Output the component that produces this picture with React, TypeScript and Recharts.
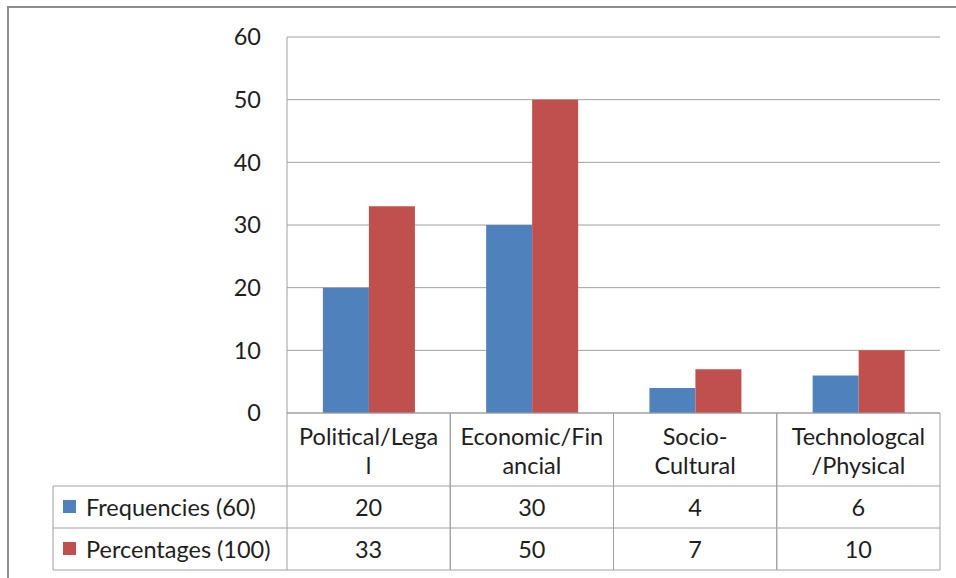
import React from 'react';
import { BarChart, Bar, XAxis, YAxis, CartesianGrid } from 'recharts';

const categories = ['Political/Legal', 'Economic/Financial', 'Socio-Cultural', 'Technologcal/Physical'];
const categoryLines = [
    ['Political/Lega', 'l'],
    ['Economic/Fin', 'ancial'],
    ['Socio-', 'Cultural'],
    ['Technologcal', '/Physical'],
];
const frequencies = [20, 30, 4, 6];
const percentages = [33, 50, 7, 10];
const seriesNames = ['Frequencies (60)', 'Percentages (100)'];
const seriesColors = ['#4F81BD', '#C0504D'];
const yTicks = [0, 10, 20, 30, 40, 50, 60];

const data = categories.map((name, i) => ({
    name,
    lines: categoryLines[i],
    freq: frequencies[i],
    pct: percentages[i],
}));

const W = 956;
const H = 578;
const PLOT_LEFT = 287;
const PLOT_RIGHT = 940;
const PLOT_TOP = 37;
const PLOT_BOTTOM = 413;
const BAND = (PLOT_RIGHT - PLOT_LEFT) / categories.length;
const LEGEND_LEFT = 53;
const LINE = '#a0a0a0';
const TEXT = '#1e1e1e';
const FONT = 'Lato, "Open Sans", sans-serif';
const FS = 23.5;

// category labels + data table drawn under each band
const TableTick = (props: any) => {
    const { x, y, index } = props;
    const row = data[index];
    const left = x - BAND / 2;
    const right = x + BAND / 2;
    const r1 = y + 73;
    const r2 = y + 115;
    const r3 = y + 157;
    const rowStart = index === 0 ? LEGEND_LEFT : left;
    return (
        <g fontFamily={FONT} fontSize={FS} fill={TEXT}>
            <line x1={left} y1={y} x2={left} y2={r3} stroke={LINE} />
            <line x1={right} y1={y} x2={right} y2={r3} stroke={LINE} />
            <line x1={rowStart} y1={r1} x2={right} y2={r1} stroke={LINE} />
            <line x1={rowStart} y1={r2} x2={right} y2={r2} stroke={LINE} />
            <line x1={rowStart} y1={r3} x2={right} y2={r3} stroke={LINE} />
            {index === 0 && (
                <g>
                    <line x1={LEGEND_LEFT} y1={r1} x2={LEGEND_LEFT} y2={r3} stroke={LINE} />
                    {seriesNames.map((s, k) => (
                        <g key={s}>
                            <rect x={LEGEND_LEFT + 10} y={r1 + 14 + k * 42} width={13} height={13} fill={seriesColors[k]} />
                            <text x={LEGEND_LEFT + 33} y={r1 + 21 + k * 42} dominantBaseline="central" fill={TEXT}>{s}</text>
                        </g>
                    ))}
                </g>
            )}
            <text x={x} y={y + 23} textAnchor="middle" dominantBaseline="central" fill={TEXT}>{row.lines[0]}</text>
            <text x={x} y={y + 52} textAnchor="middle" dominantBaseline="central" fill={TEXT}>{row.lines[1]}</text>
            <text x={x} y={r1 + 21} textAnchor="middle" dominantBaseline="central" fill={TEXT}>{row.freq}</text>
            <text x={x} y={r2 + 21} textAnchor="middle" dominantBaseline="central" fill={TEXT}>{row.pct}</text>
        </g>
    );
};

export default function App() {
    return (
        <div style={{ position: 'absolute', left: 0, top: 0, width: W, height: H, background: '#fff', overflow: 'hidden', fontFamily: FONT }}>
            <div style={{ position: 'absolute', left: 7, top: 6, width: W, height: H, borderTop: '2px solid #8c8c8c', borderLeft: '2px solid #8c8c8c' }} />
            <BarChart
                width={W}
                height={H}
                data={data}
                margin={{ top: PLOT_TOP, right: W - PLOT_RIGHT, left: PLOT_LEFT - 60, bottom: 0 }}
                barCategoryGap="22%"
                barGap={0}
                style={{ position: 'absolute', left: 0, top: 0 }}
            >
                <CartesianGrid vertical={false} stroke={LINE} />
                <YAxis
                    width={60}
                    domain={[0, 60]}
                    ticks={yTicks}
                    axisLine={{ stroke: LINE }}
                    tickLine={false}
                    tickSize={0}
                    tickMargin={26}
                    tick={{ fill: TEXT, fontSize: FS, fontFamily: FONT }}
                />
                <XAxis
                    dataKey="name"
                    height={H - PLOT_BOTTOM}
                    interval={0}
                    axisLine={{ stroke: LINE }}
                    tickLine={false}
                    tickSize={0}
                    tickMargin={0}
                    tick={(p: any) => <TableTick {...p} />}
                />
                <Bar dataKey="freq" name={seriesNames[0]} fill={seriesColors[0]} isAnimationActive={false} />
                <Bar dataKey="pct" name={seriesNames[1]} fill={seriesColors[1]} isAnimationActive={false} />
            </BarChart>
        </div>
    );
}
